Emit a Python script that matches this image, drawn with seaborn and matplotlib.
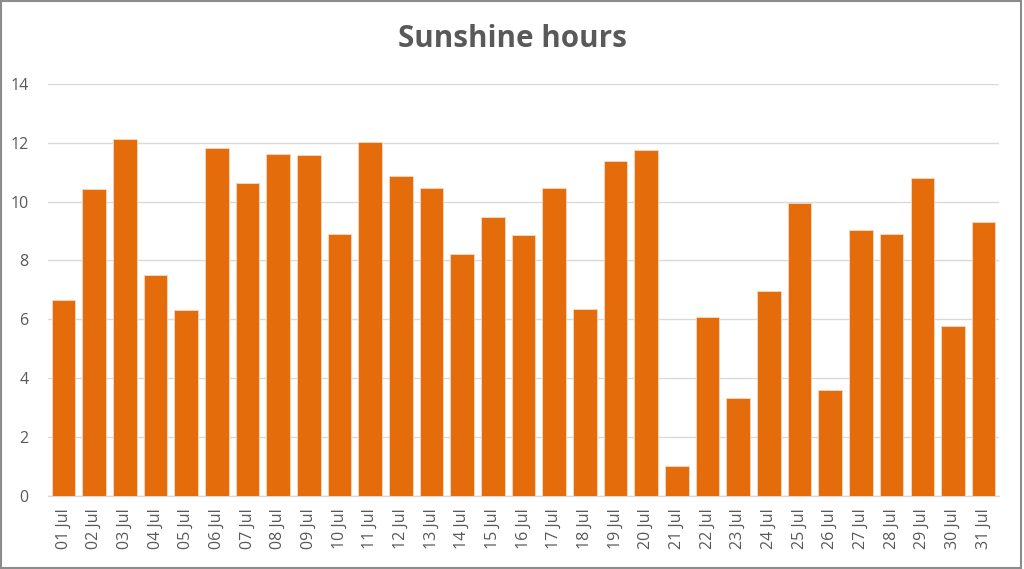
import numpy as np
import pandas as pd
import matplotlib
matplotlib.use("Agg")
import matplotlib.pyplot as plt
import seaborn as sns

days = [f"{d:02d} Jul" for d in range(1, 32)]
hours = [6.67, 10.43, 12.12, 7.52, 6.30, 11.84, 10.65, 11.63, 11.59, 8.90,
         12.02, 10.87, 10.46, 8.23, 9.49, 8.85, 10.45, 6.36, 11.38, 11.76,
         1.02, 6.09, 3.32, 6.95, 9.94, 3.59, 9.05, 8.89, 10.80, 5.76, 9.31]
yticks = [0, 2, 4, 6, 8, 10, 12, 14]

df = pd.DataFrame({"day": days, "hours": hours})

sns.set_style("white")
plt.rcParams["font.family"] = ["Open Sans", "DejaVu Sans"]
GREY = "#595959"

fig = plt.figure(figsize=(10.24, 5.69), dpi=100)
ax = fig.add_axes([0.047, 0.1288, 0.9286, 0.7236])
sns.barplot(data=df, x="day", y="hours", color="#E46C0A", saturation=1,
            width=0.77, edgecolor="#F8D8C0", linewidth=0.6, ax=ax, zorder=3)

ax.set_ylim(0, 14)
ax.set_xlim(-0.5, len(days) - 0.5)
ax.set_yticks(yticks)
ax.set_yticklabels([str(v) for v in yticks])
ax.yaxis.grid(True, color="#D9D9D9", linewidth=1, zorder=0)
ax.set_axisbelow(True)
for s in ["top", "right", "left"]:
    ax.spines[s].set_visible(False)
ax.spines["bottom"].set_color("#D9D9D9")
ax.spines["bottom"].set_linewidth(1)
ax.tick_params(axis="both", length=0, colors=GREY, labelsize=11.5)
ax.tick_params(axis="y", pad=14)
ax.tick_params(axis="x", pad=9)
plt.setp(ax.get_xticklabels(), rotation=90)
ax.set_xlabel("")
ax.set_ylabel("")

fig.text(0.5, 0.932, "Sunshine hours", ha="center", va="center",
         fontsize=21.3, fontweight="bold", color=GREY)

# frame around the chart
fig.patches.append(plt.Rectangle((0.001, 0.002), 0.996, 0.996, transform=fig.transFigure,
                                 fill=False, edgecolor="#8C8C8C", linewidth=1.5))

fig.savefig("out.png", dpi=100)
